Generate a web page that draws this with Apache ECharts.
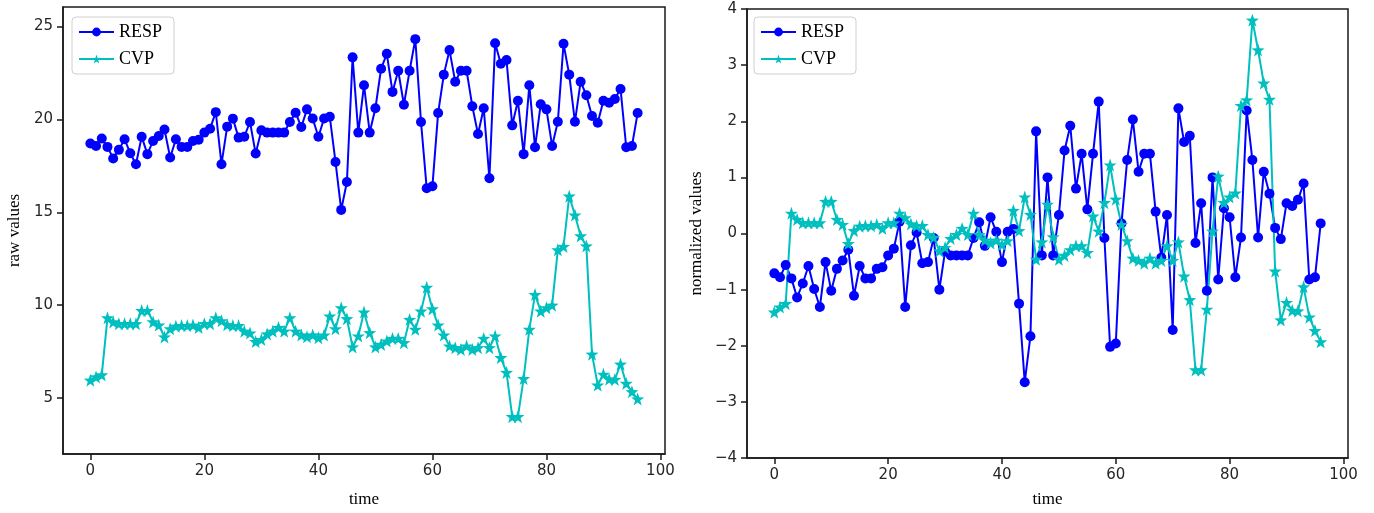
<!DOCTYPE html>
<html>
<head>
<meta charset="utf-8">
<script src="https://cdn.jsdelivr.net/npm/echarts@6/dist/echarts.min.js"></script>
<style>
html,body{margin:0;padding:0;background:#fff;}
#c{width:1374px;height:513px;}
</style>
</head>
<body>
<div id="c"></div>
<script>
// ---- data ----
const time = [0,1,2,3,4,5,6,7,8,9,10,11,12,13,14,15,16,17,18,19,20,21,22,23,24,25,26,27,28,29,30,31,32,33,34,35,36,37,38,39,40,41,42,43,44,45,46,47,48,49,50,51,52,53,54,55,56,57,58,59,60,61,62,63,64,65,66,67,68,69,70,71,72,73,74,75,76,77,78,79,80,81,82,83,84,85,86,87,88,89,90,91,92,93,94,95,96];

const respRaw = [18.70,18.57,18.97,18.52,17.90,18.36,18.93,18.18,17.59,19.07,18.13,18.84,19.11,19.46,17.95,18.93,18.52,18.52,18.84,18.90,
  19.29,19.50,20.39,17.59,19.61,20.04,19.02,19.07,19.86,18.16,19.41,19.29,19.29,19.29,19.29,19.86,20.36,19.59,20.54,20.05,
  19.07,20.05,20.14,17.71,15.13,16.63,23.34,19.29,21.84,19.29,20.60,22.73,23.53,21.48,22.62,20.79,22.62,24.32,19.86,16.29,
  16.40,20.34,22.41,23.73,22.03,22.62,22.62,20.71,19.21,20.60,16.83,24.10,23.00,23.20,19.68,21.00,18.13,21.84,18.50,20.82,
  20.54,18.57,19.87,24.07,22.41,19.87,22.03,21.30,20.18,19.82,21.00,20.90,21.10,21.64,18.50,18.57,20.34];

const cvpRaw = [5.96,6.14,6.25,9.32,9.10,9.00,9.00,9.00,9.00,9.71,9.71,9.10,8.93,8.29,8.73,8.87,8.90,8.90,8.93,8.80,
  9.00,9.00,9.32,9.16,8.95,8.90,8.90,8.60,8.50,8.04,8.15,8.45,8.60,8.80,8.60,9.32,8.60,8.40,8.30,8.40,
  8.25,8.39,9.41,8.73,9.86,9.27,7.75,8.34,9.63,8.52,7.75,7.89,8.07,8.21,8.21,7.98,9.23,8.70,9.68,10.96,
  9.80,8.93,8.39,7.80,7.71,7.62,7.80,7.62,7.71,8.21,7.71,8.34,7.18,6.38,4.00,4.00,6.05,8.70,10.57,9.68,
  9.86,10.00,12.98,13.16,15.87,14.85,13.73,13.19,7.36,5.70,6.28,6.02,6.00,6.82,5.79,5.34,4.95];

const respNorm = [-0.71,-0.78,-0.56,-0.80,-1.14,-0.89,-0.58,-0.99,-1.31,-0.51,-1.02,-0.63,-0.48,-0.29,-1.11,-0.58,-0.80,-0.80,-0.63,-0.60,
  -0.39,-0.27,0.21,-1.31,-0.21,0.02,-0.53,-0.51,-0.08,-1.00,-0.32,-0.39,-0.39,-0.39,-0.39,-0.08,0.20,-0.22,0.29,0.03,
  -0.51,0.03,0.08,-1.25,-2.65,-1.83,1.82,-0.39,1.00,-0.39,0.33,1.48,1.92,0.80,1.42,0.43,1.42,2.35,-0.08,-2.02,
  -1.96,0.18,1.31,2.03,1.10,1.42,1.42,0.39,-0.43,0.33,-1.72,2.23,1.63,1.74,-0.17,0.54,-1.02,1.00,-0.82,0.45,
  0.29,-0.78,-0.07,2.19,1.31,-0.07,1.10,0.71,0.10,-0.10,0.54,0.49,0.60,0.89,-0.82,-0.78,0.18];

const cvpNorm = [-1.40,-1.31,-1.25,0.36,0.25,0.19,0.19,0.19,0.19,0.57,0.57,0.25,0.16,-0.18,0.05,0.13,0.14,0.14,0.16,0.09,
  0.19,0.19,0.36,0.28,0.17,0.14,0.14,-0.02,-0.07,-0.31,-0.25,-0.09,-0.02,0.09,-0.02,0.36,-0.02,-0.12,-0.17,-0.12,
  -0.20,-0.13,0.41,0.05,0.65,0.34,-0.46,-0.15,0.52,-0.06,-0.46,-0.39,-0.29,-0.22,-0.22,-0.34,0.31,0.04,0.55,1.22,
  0.61,0.16,-0.13,-0.44,-0.48,-0.53,-0.44,-0.53,-0.48,-0.22,-0.48,-0.15,-0.76,-1.18,-2.43,-2.43,-1.35,0.04,1.02,0.55,
  0.65,0.72,2.28,2.38,3.80,3.27,2.68,2.39,-0.67,-1.54,-1.23,-1.37,-1.38,-0.95,-1.49,-1.73,-1.93];

const xTicks = [0,20,40,60,80,100];
const yTicksRaw = [5,10,15,20,25];
const yTicksNorm = [-4,-3,-2,-1,0,1,2,3,4];
const seriesNames = ['RESP','CVP'];

// ---- styles ----
const BLUE = '#0000ff', CYAN = '#00bfbf';
const STAR = 'path://M0,-10L2.35,-3.24L9.51,-3.09L3.8,1.24L5.88,8.09L0,4L-5.88,8.09L-3.8,1.24L-9.51,-3.09L-2.35,-3.24Z';
const tickFont = {fontFamily:'DejaVu Sans', fontSize:15, color:'#262626'};
const nameFont = {fontFamily:'Liberation Serif', fontSize:17, color:'#000'};
const fmt = v => (v < 0 ? '\u2212' + Math.abs(v) : String(v));

function pairs(ys){ return time.map((t,i)=>[t, ys[i]]); }

function xAxis(gi, gap){
  return {
    type:'value', gridIndex:gi, min:-4.8, max:100.8,
    name:'time', nameLocation:'middle', nameGap:gap, nameTextStyle:nameFont,
    axisLine:{show:true, onZero:false, lineStyle:{color:'#1a1a1a', width:1.5}},
    axisTick:{show:true, inside:false, length:6, lineStyle:{color:'#1a1a1a', width:1.5}, customValues:xTicks},
    axisLabel:Object.assign({margin:10, customValues:xTicks, formatter:fmt}, tickFont),
    splitLine:{show:false}
  };
}
function yAxis(gi, name, min, max, ticks, gap){
  return {
    type:'value', gridIndex:gi, min:min, max:max,
    name:name, nameLocation:'middle', nameGap:gap, nameRotate:90, nameTextStyle:nameFont,
    axisLine:{show:true, onZero:false, lineStyle:{color:'#1a1a1a', width:1.5}},
    axisTick:{show:true, inside:false, length:6, lineStyle:{color:'#1a1a1a', width:1.5}, customValues:ticks},
    axisLabel:Object.assign({margin:10, customValues:ticks, formatter:fmt}, tickFont),
    splitLine:{show:false}
  };
}
function lineSeries(name, data, gi, color, symbol, size){
  return {
    name:name, type:'line', xAxisIndex:gi, yAxisIndex:gi, data:pairs(data),
    symbol:symbol, symbolSize:size, showAllSymbol:true,
    lineStyle:{color:color, width:2}, itemStyle:{color:color, borderWidth:0},
    emphasis:{disabled:true}, animation:false
  };
}
function legend(left){
  return {
    data:seriesNames, orient:'vertical', left:left, top:17,
    itemWidth:35, itemHeight:11, itemGap:9,
    padding:[6,12,6,6],
    borderColor:'#d0d0d0', borderWidth:1, borderRadius:4, backgroundColor:'rgba(255,255,255,0.8)',
    textStyle:{fontFamily:'Liberation Serif', fontSize:18, color:'#000'},
    selectedMode:false
  };
}

const chart = echarts.init(document.getElementById('c'), null, {renderer:'canvas'});
chart.setOption({
  backgroundColor:'#fff',
  animation:false,
  grid:[
    {left:63, top:7, width:602, height:450, show:true, borderColor:'#1a1a1a', borderWidth:1.5, backgroundColor:'#fff'},
    {left:747, top:9, width:601, height:449, show:true, borderColor:'#1a1a1a', borderWidth:1.5, backgroundColor:'#fff'}
  ],
  legend:[legend(72), legend(754)],
  xAxis:[xAxis(0,37), xAxis(1,33)],
  yAxis:[yAxis(0,'raw values',1.99,26.05,yTicksRaw,40), yAxis(1,'normalized values',-4,4,yTicksNorm,42)],
  series:[
    lineSeries('RESP', respRaw, 0, BLUE, 'circle', 10),
    lineSeries('CVP', cvpRaw, 0, CYAN, STAR, 13),
    lineSeries('RESP', respNorm, 1, BLUE, 'circle', 10),
    lineSeries('CVP', cvpNorm, 1, CYAN, STAR, 13)
  ]
});
</script>
</body>
</html>
